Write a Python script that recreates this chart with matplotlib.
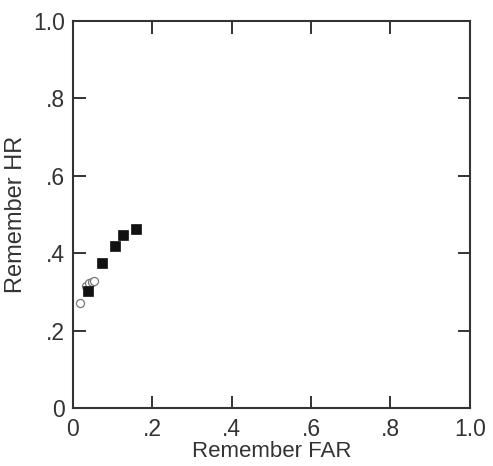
import matplotlib
matplotlib.use("Agg")
import matplotlib.pyplot as plt

# ── data ──────────────────────────────────────────────────────────────────────
square_far = [0.039, 0.074, 0.106, 0.126, 0.158]
square_hr  = [0.302, 0.375, 0.419, 0.446, 0.463]

circle_far = [0.017, 0.034, 0.040, 0.047, 0.054]
circle_hr  = [0.270, 0.316, 0.322, 0.326, 0.328]

ticks = [0, 0.2, 0.4, 0.6, 0.8, 1.0]
tick_labels = ["0", ".2", ".4", ".6", ".8", "1.0"]

plt.rcParams["font.family"] = ["Liberation Sans", "DejaVu Sans"]

fig = plt.figure(figsize=(4.93, 4.66), dpi=100)
ax = fig.add_axes([0.148, 0.1245, 0.805, 0.8305])

ax.plot(circle_far, circle_hr, "o", ms=5.8, mfc="white", mec="#777777", mew=0.9,
        linestyle="none", zorder=3)
ax.plot(square_far, square_hr, "s", ms=7.5, mfc="#111111", mec="#111111", mew=0.5,
        linestyle="none", zorder=4)

ax.set_xlim(0, 1)
ax.set_ylim(0, 1)
ax.set_xticks(ticks)
ax.set_xticklabels(tick_labels)
ax.set_yticks(ticks)
ax.set_yticklabels(tick_labels)

ax.tick_params(direction="in", length=9, width=1.4, color="#333333",
               labelsize=16.5, labelcolor="#333333", top=True, right=True, pad=6)
ax.tick_params(axis="x", pad=7)
for s in ax.spines.values():
    s.set_linewidth(1.5)
    s.set_color("#333333")

ax.set_xlabel("Remember FAR", fontsize=16, color="#333333", labelpad=0)
ax.set_ylabel("Remember HR", fontsize=17, color="#333333", labelpad=4)

fig.savefig("out.png", dpi=100)
